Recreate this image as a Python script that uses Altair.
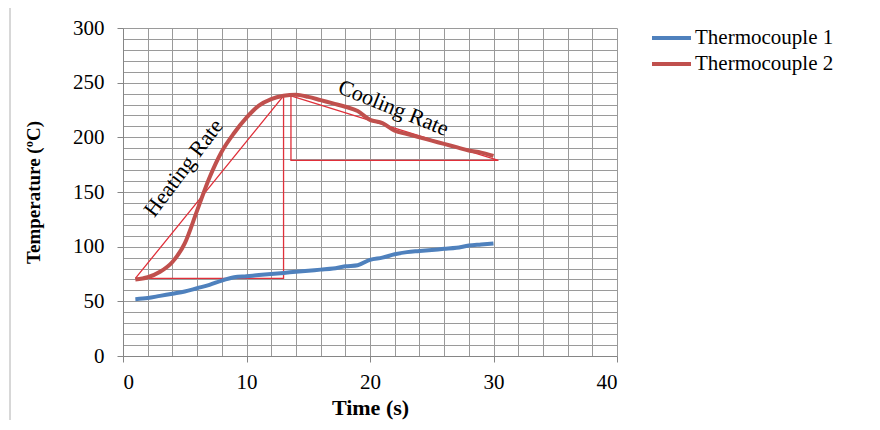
import altair as alt
import pandas as pd

# ---- data ----
time = list(range(1, 31))
tc1 = [52, 53, 55, 57, 59, 62, 65, 69, 72, 73, 74, 75, 76, 77, 78, 79, 80, 82, 83, 88,
       90, 93, 95, 96, 97, 98, 99, 101, 102, 103]
tc2 = [70, 72, 77, 86, 103, 133, 163, 187, 204, 218, 229, 235, 238, 239, 237, 234, 231, 228, 224, 216,
       213, 206, 203, 200, 197, 194, 191, 188, 186, 183]
series_names = ["Thermocouple 1", "Thermocouple 2"]
series_colors = ["#4F81BD", "#C0504D"]

# annotation triangles (closed paths)
heat_x = [1, 13, 13, 1]
heat_y = [71, 238, 71, 71]
cool_x = [13.6, 30.4, 13.6, 13.6]
cool_y = [238, 179, 179, 238]

label_text = ["Heating Rate", "Cooling Rate"]
label_x = [4.9, 21.9]
label_y = [172, 227]
label_angle = [307, 22]

x_grid = list(range(0, 41, 2))
y_grid = list(range(0, 301, 10))

# ---- tables ----
df = pd.DataFrame({
    "time": time * 2,
    "temp": tc1 + tc2,
    "series": [series_names[0]] * len(time) + [series_names[1]] * len(time),
})
ann = pd.DataFrame({
    "x": heat_x + cool_x,
    "y": heat_y + cool_y,
    "grp": ["heat"] * len(heat_x) + ["cool"] * len(cool_x),
    "step": list(range(len(heat_x))) + list(range(len(cool_x))),
})
labels = pd.DataFrame({"text": label_text, "x": label_x, "y": label_y, "angle": label_angle})

x_scale = alt.Scale(domain=[0, 40], nice=False, zero=False)
y_scale = alt.Scale(domain=[0, 300], nice=False)

x_axis = alt.Axis(
    values=x_grid, grid=True, title="Time (s)",
    labelExpr="datum.value % 10 === 0 ? datum.label : ''",
    tickOpacity={"expr": "datum.value % 10 === 0 ? 1 : 0"},
    tickSize=6, labelPadding=9, titlePadding=5, labelOverlap=False,
    titleFontSize=22, labelFontSize=21,
)
y_axis = alt.Axis(
    values=y_grid, grid=True, title="Temperature (ºC)",
    labelExpr="datum.value % 50 === 0 ? datum.label : ''",
    tickOpacity={"expr": "datum.value % 50 === 0 ? 1 : 0"},
    tickSize=6, labelPadding=13, titlePadding=29, labelOverlap=False,
    titleFontSize=19, labelFontSize=21,
)

lines = alt.Chart(df).mark_line(strokeWidth=4, interpolate="monotone").encode(
    x=alt.X("time:Q", scale=x_scale, axis=x_axis),
    y=alt.Y("temp:Q", scale=y_scale, axis=y_axis),
    color=alt.Color(
        "series:N",
        scale=alt.Scale(domain=series_names, range=series_colors),
        legend=alt.Legend(
            title=None, orient="none", legendX=527, legendY=-1,
            symbolType="stroke", symbolStrokeWidth=4, symbolSize=1520,
            labelFont="Liberation Serif", labelFontSize=21, labelColor="black",
            rowPadding=4, labelOffset=2, clipHeight=22,
        ),
    ),
)

tri = alt.Chart(ann).mark_line(strokeWidth=1.3, color="#E0303A").encode(
    x=alt.X("x:Q", scale=x_scale, axis=x_axis),
    y=alt.Y("y:Q", scale=y_scale, axis=y_axis),
    detail="grp:N",
    order="step:Q",
)

txt = alt.Chart(labels).mark_text(font="Liberation Serif", fontSize=22, color="black").encode(
    x=alt.X("x:Q", scale=x_scale, axis=x_axis),
    y=alt.Y("y:Q", scale=y_scale, axis=y_axis),
    text="text:N",
    angle=alt.Angle("angle:Q", scale=None),
)

frame = alt.Chart(pd.DataFrame({"a": [0]})).mark_rule(color="#B0B0B0", strokeWidth=1).encode(
    x=alt.value(-113), y=alt.value(-28), y2=alt.value(392)
)

chart = alt.layer(tri, lines, txt, frame).properties(
    width=494, height=328,
    autosize=alt.AutoSizeParams(type="none"),
    padding={"left": 115, "top": 20, "right": 250, "bottom": 65},
).configure_axis(
    labelFont="Liberation Serif", labelColor="black",
    titleFont="Liberation Serif", titleFontWeight="bold", titleColor="black",
    gridColor="#9A9A9A", gridWidth=1, gridOpacity=1,
    domainColor="#868686", tickColor="#868686",
).configure_view(stroke=None)

chart.save("out.html", embed_options={"renderer": "svg", "actions": False})
